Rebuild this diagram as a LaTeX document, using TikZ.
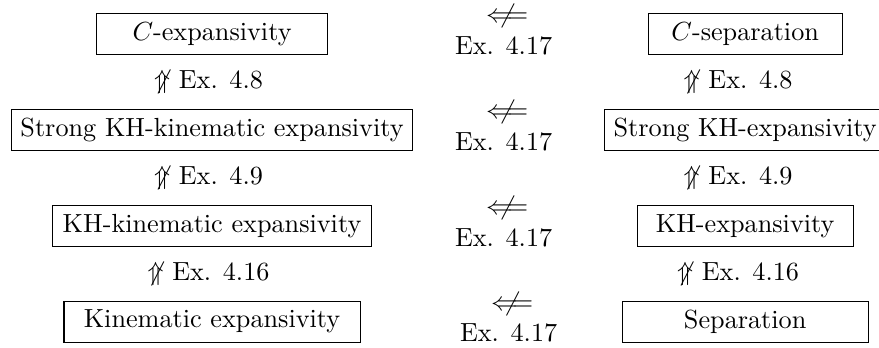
\documentclass[tikz,border=0pt]{standalone}
\usepackage{amsmath}
\usepackage{amssymb}
\usepackage{tikz}
\usetikzlibrary{positioning}

\newcommand{\nimpl}{\mathrel{\rlap{\kern7.2pt$\not$}\Longleftarrow}}

\begin{document}
\begin{tikzpicture}[
    node distance=1.286cm,
    prop/.style={draw, inner sep=3.33pt},
    noimp/.style={inner sep=1pt},
    ex/.style={align=center, inner sep=1pt}
]
\useasboundingbox (0,0) rectangle (11.79,-4.655);
% left column
\node (cexp) [prop, minimum width=88pt] at (2.844,-0.457) {$C$-expansivity};
\node (skhk) [prop, below of=cexp] {Strong KH-kinematic expansivity};
\node (khk) [prop, minimum width=122pt, below of=skhk] {KH-kinematic expansivity};
\node (kin) [prop, minimum width=113pt, below of=khk] {Kinematic expansivity};
% right column
\node (csep) [prop, minimum width=74pt] at (9.995,-0.457) {$C$-separation};
\node (skh) [prop, below of=csep] {Strong KH-expansivity};
\node (kh) [prop, minimum width=82.4pt, below of=skh] {KH-expansivity};
\node (sep) [prop, minimum width=94pt, below of=kh] {Separation};
% vertical non-implications
\node (la) [noimp, below of=cexp, node distance=0.643cm, xshift=-0.047cm] {$\not\Uparrow$ Ex. 4.8};
\node (lb) [noimp, below of=skhk, node distance=0.643cm, xshift=-0.047cm] {$\not\Uparrow$ Ex. 4.9};
\node (lc) [noimp, below of=khk, node distance=0.643cm, xshift=-0.047cm] {$\not\Uparrow$ Ex. 4.16};
\node (ra) [noimp, below of=csep, node distance=0.643cm, xshift=-0.095cm] {$\not\Uparrow$ Ex. 4.8};
\node (rb) [noimp, below of=skh, node distance=0.643cm, xshift=-0.095cm] {$\not\Uparrow$ Ex. 4.9};
\node (rc) [noimp, below of=kh, node distance=0.643cm, xshift=-0.095cm] {$\not\Uparrow$ Ex. 4.16};
% horizontal non-implications
\node (ma) [ex] at (6.755,-0.40) {$\nimpl$\\Ex. 4.17};
\node (mb) [ex] at (6.755,-1.686) {$\nimpl$\\Ex. 4.17};
\node (mc) [ex] at (6.755,-2.972) {$\nimpl$\\Ex. 4.17};
\node (md) [ex] at (6.822,-4.258) {$\nimpl$\\Ex. 4.17};
\end{tikzpicture}
\end{document}
